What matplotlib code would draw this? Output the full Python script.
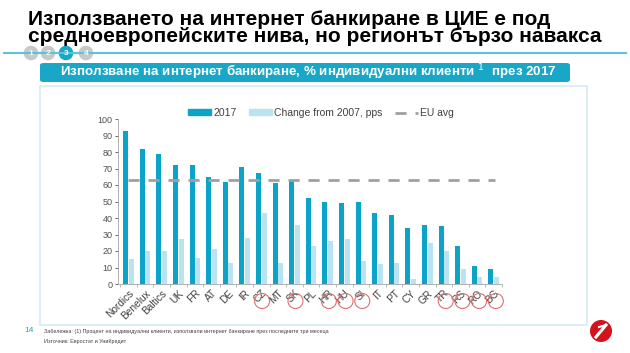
import matplotlib
matplotlib.use("Agg")
import matplotlib.pyplot as plt
from matplotlib.patches import FancyBboxPatch, Rectangle, Ellipse
from matplotlib.lines import Line2D
import numpy as np

plt.rcParams['font.family'] = ['Liberation Sans', 'DejaVu Sans']

categories = ["Nordics", "Benelux", "Baltics", "UK", "FR", "AT", "DE", "IR", "CZ", "MT",
              "SK", "PL", "HR", "HU", "SI", "IT", "PT", "CY", "GR", "TR", "RS", "RO", "BG"]
values_2017 = [93, 82, 79, 72, 72, 65, 62, 71, 67, 61, 63, 52, 50, 49, 50, 43, 42, 34, 36, 35, 23, 11, 9]
change_2007 = [15, 20, 20, 27, 16, 21, 13, 28, 43, 13, 36, 23, 26, 27, 14, 12, 13, 3, 25, 20, 9, 4, 4]
eu_avg = 63
highlighted = ["CZ", "SK", "HR", "HU", "SI", "TR", "RS", "RO", "BG"]
yticks = list(range(0, 101, 10))

W, H = 630, 353
fig = plt.figure(figsize=(W / 100, H / 100), dpi=100)
fig.patch.set_facecolor("white")

def fx(px):
    return px / W

def fy(py):
    return 1 - py / H

def pcircle(cx, cy, r, **kw):
    return Ellipse((fx(cx), fy(cy)), 2 * r / W, 2 * r / H, transform=fig.transFigure, **kw)

DARK = "#0ba3c7"
LIGHT = "#b9e3ef"
TEAL = "#19a7c8"

# Title
fig.text(fx(28), fy(10),
         "Използването на интернет банкиране в ЦИЕ е под\nсредноевропейските нива, но регионът бързо навакса",
         fontsize=15, fontweight="bold", color="black", va="top", ha="left", linespacing=0.88)

# Step line and circles
fig.add_artist(Line2D([fx(4), fx(626)], [fy(53), fy(53)], color="#5cc3dc", lw=1.5))
for cx, lab in zip([31, 48, 66, 86], ["1", "2", "3", "4"]):
    col = TEAL if lab == "3" else "#c8c8c8"
    fig.add_artist(pcircle(cx, 53, 8, facecolor=col, edgecolor="white", lw=1.0))
    fig.text(fx(cx), fy(53.5), lab, fontsize=6, color="white", ha="center", va="center",
             fontweight="bold")

# Panel border
fig.add_artist(Rectangle((fx(40), fy(325)), fx(587) - fx(40), fy(86) - fy(325),
                         transform=fig.transFigure, facecolor="none",
                         edgecolor="#d6ecf4", lw=1.2))
# Header box
fig.add_artist(FancyBboxPatch((fx(40), fy(82)), fx(570) - fx(40), fy(63) - fy(82),
                              boxstyle="round,pad=0,rounding_size=0.006",
                              transform=fig.transFigure, facecolor=TEAL, edgecolor="none"))
fig.text(fx(308), fy(72.5), "Използване на интернет банкиране, % индивидуални клиенти $^{1}$  през 2017",
         fontsize=9.6, fontweight="bold", color="white", ha="center", va="center")

# Axes
n = len(categories)
left_px, right_px = 118, 502
ax = fig.add_axes([fx(left_px), fy(284), fx(right_px) - fx(left_px), fy(119) - fy(284)])
x = np.arange(n)
bw = 0.3
ax.bar(x - bw / 2 - 0.02, values_2017, width=bw, color=DARK, label="2017", zorder=2)
ax.bar(x + bw / 2 + 0.02, change_2007, width=bw, color=LIGHT, label="Change from 2007, pps", zorder=2)
ax.plot([-0.05, n - 0.9], [eu_avg, eu_avg], color="#a0a0a0", lw=2, dashes=(4, 3.2),
        label="EU avg", zorder=3)
ax.set_xlim(-0.63, n - 0.63)
ax.set_ylim(0, 100)
ax.set_yticks(yticks)
ax.tick_params(axis="y", labelsize=6.5, colors="#505050", length=2, width=0.6, pad=2)
ax.set_xticks(x)
ax.set_xticklabels(categories, rotation=45, ha="right", rotation_mode="anchor",
                   fontsize=7.3, color="#404040")
ax.tick_params(axis="x", length=0, pad=3)
ax.set_xticks(np.arange(-0.5, n, 1.0), minor=True)
ax.tick_params(axis="x", which="minor", length=2.5, width=0.6, color="#b0b0b0")
for s in ["top", "right"]:
    ax.spines[s].set_visible(False)
ax.spines["left"].set_color("#b0b0b0")
ax.spines["bottom"].set_color("#b0b0b0")
ax.spines["left"].set_linewidth(0.7)
ax.spines["bottom"].set_linewidth(0.7)
ax.set_facecolor("none")

# Red circles around highlighted labels
for i, c in enumerate(categories):
    if c in highlighted:
        xp = left_px + (i + 0.63) / n * (right_px - left_px)
        fig.add_artist(pcircle(xp, 301, 7.5, facecolor="none", edgecolor="#e07070", lw=0.8))

# Legend
handles = [Rectangle((0, 0), 1, 1, color=DARK), Rectangle((0, 0), 1, 1, color=LIGHT),
           Line2D([0], [0], color="#a0a0a0", lw=2, dashes=(4, 3.2))]
fig.legend(handles, ["2017", "Change from 2007, pps", "EU avg"], ncol=3, frameon=False,
           loc="center", bbox_to_anchor=(fx(321), fy(113)), fontsize=7.5,
           handlelength=2.2, handleheight=0.5, columnspacing=1.2, handletextpad=0.2,
           labelcolor="#404040")

# Footer
fig.text(fx(24), fy(331), "14", fontsize=6, color="#2a9fc0", ha="left", va="center")
fig.text(fx(44), fy(331),
         "Забележка: (1) Процент на индивидуални клиенти, използвали интернет банкиране през последните три месеца",
         fontsize=3.9, color="#404040", ha="left", va="center")
fig.text(fx(44), fy(341), "Източник: Евростат и УниКредит",
         fontsize=3.9, color="#404040", ha="left", va="center")

# Logo
fig.add_artist(pcircle(601, 331, 11, facecolor="#d4141c", edgecolor="none"))
fig.add_artist(Line2D([fx(596), fx(606)], [fy(337), fy(325)], color="white", lw=2.2))
fig.add_artist(Line2D([fx(599), fx(606)], [fy(327), fy(325)], color="white", lw=1.5))

fig.savefig("out.png", dpi=100, facecolor="white")
